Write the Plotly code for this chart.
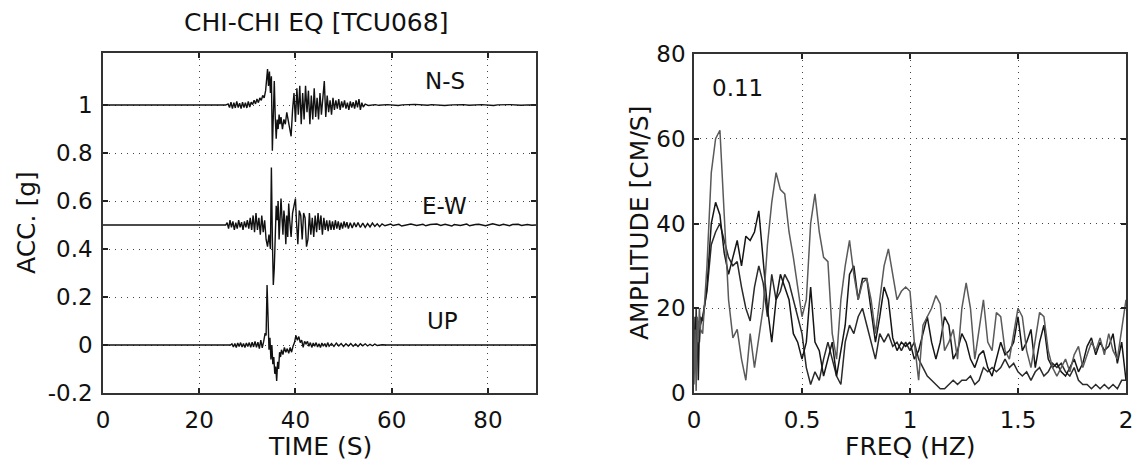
import plotly.graph_objects as go

# ---------------- Left panel data: acceleration records ----------------
ns_baseline = 1.0
ns_time = [0, 25.5, 26.0, 26.3, 26.6, 26.9, 27.2, 27.5, 27.8, 28.1, 28.4, 28.7, 29.0, 29.3, 29.6, 29.9,
           30.2, 30.5, 30.8, 31.1, 31.4, 31.7, 32.0, 32.3, 32.6, 32.9, 33.2, 33.5, 33.8, 34.0, 34.2, 34.4,
           34.6, 34.8, 35.0, 35.2, 35.4, 35.6, 35.8, 36.0, 36.2, 36.4, 36.6, 36.8, 37.0, 37.3, 37.6, 37.9,
           38.2, 38.5, 38.8, 39.1, 39.4, 39.7, 40.0, 40.3, 40.6, 40.9, 41.2, 41.5, 41.8, 42.1, 42.4, 42.7,
           43.0, 43.3, 43.6, 43.9, 44.2, 44.5, 44.8, 45.1, 45.4, 45.7, 46.0, 46.3, 46.6, 46.9, 47.2, 47.5,
           47.8, 48.1, 48.4, 48.7, 49.0, 49.3, 49.6, 49.9, 50.2, 50.5, 50.8, 51.1, 51.4, 51.7, 52.0, 52.3,
           52.6, 52.9, 53.2, 53.5, 53.8, 54.1, 54.5, 55.2, 56.6, 57.3, 59.1, 61.4, 62.2, 64.8, 67.5, 68.3,
           71.0, 72.6, 74.9, 76.1, 78.7, 81.2, 82.0, 84.6, 86.9, 88.3, 90]
ns_offset = [0, 0, 0.005, -0.01, 0.012, -0.015, 0.01, -0.012, 0.015, -0.01, 0.008, -0.015, 0.012, -0.01, 0.01, -0.012,
             0.015, -0.008, 0.012, 0.002, 0.02, 0.005, 0.025, 0.01, 0.03, 0.02, 0.04, 0.03, 0.06, 0.1, 0.15, 0.08,
             0.14, 0.05, 0.12, -0.19, 0.02, 0.1, -0.05, -0.14, -0.06, -0.1, -0.04, -0.08, -0.05, -0.1, -0.06, -0.08,
             -0.03, -0.07, -0.11, -0.13, -0.02, 0.05, -0.07, 0.07, -0.04, 0.08, -0.08, 0.05, -0.06, 0.08, -0.03, 0.06,
             -0.08, 0.04, -0.06, 0.07, -0.05, 0.03, -0.06, 0.05, -0.04, 0.03, 0.1, -0.05, 0.04, -0.03, 0.02, -0.04,
             0.03, -0.02, 0.02, -0.015, 0.025, -0.02, 0.015, -0.01, 0.02, -0.015, 0.01, -0.02, 0.015, -0.01, 0.012, -0.015,
             0.02, -0.01, 0.025, -0.02, 0.01, -0.008, 0.004, -0.002, 0.002, -0.001, 0.002, -0.002, 0.001, 0.003, -0.001, 0.002,
             -0.002, 0.001, 0.002, -0.001, 0.002, -0.002, 0.001, 0.002, -0.001, 0.001, 0]

ew_baseline = 0.5
ew_time = [0, 25.5, 25.8, 26.1, 26.4, 26.7, 27.0, 27.3, 27.6, 27.9, 28.2, 28.5, 28.8, 29.1, 29.4, 29.7,
           30.0, 30.3, 30.6, 30.9, 31.2, 31.5, 31.8, 32.1, 32.4, 32.7, 33.0, 33.3, 33.6, 33.9, 34.2, 34.5,
           34.8, 35.0, 35.2, 35.4, 35.6, 35.8, 36.0, 36.2, 36.4, 36.6, 36.8, 37.0, 37.2, 37.4, 37.6, 37.8,
           38.0, 38.2, 38.4, 38.6, 38.8, 39.1, 39.4, 39.7, 40.0, 40.2, 40.5, 40.8, 41.1, 41.4, 41.7, 42.0,
           42.3, 42.6, 42.9, 43.2, 43.5, 43.8, 44.1, 44.4, 44.7, 45.0, 45.3, 45.6, 45.9, 46.2, 46.5, 46.8,
           47.1, 47.4, 47.7, 48.0, 48.3, 48.6, 48.9, 49.2, 49.5, 49.8, 50.1, 50.4, 50.7, 51.0, 51.4, 51.8,
           52.2, 52.6, 53.0, 53.5, 54.0, 54.5, 55.0, 55.5, 56.0, 56.5, 57.0, 57.5, 58.0, 58.6, 59.8, 60.3,
           61.5, 62.1, 63.4, 64.0, 65.2, 66.5, 67.1, 68.0, 69.4, 70.2, 71.1, 72.5, 73.0, 74.3, 75.6, 76.2,
           77.4, 78.1, 79.5, 80.3, 81.0, 82.4, 83.2, 84.5, 85.1, 86.3, 87.0, 88.2, 89.1, 90]
ew_offset = [0, 0, 0.01, -0.015, 0.02, -0.01, 0.015, -0.02, 0.01, -0.015, 0.02, -0.01, 0.012, -0.02, 0.015, -0.01,
             0.02, -0.015, 0.03, -0.02, 0.04, -0.03, 0.05, -0.02, 0.03, -0.04, 0.04, -0.03, 0.02, -0.06, -0.09, -0.04,
             -0.1, 0.24, -0.05, -0.25, -0.18, 0.02, 0.08, 0.02, 0.1, -0.06, 0.05, 0.11, 0.03, -0.04, 0.06, 0.02,
             -0.08, 0.04, -0.05, 0.09, 0.02, -0.05, 0.05, 0.08, 0.11, 0.02, -0.08, 0.06, 0.04, -0.06, 0.05, 0.03,
             -0.09, -0.06, 0.05, -0.04, 0.03, -0.05, 0.04, -0.03, 0.05, -0.02, 0.04, -0.04, 0.03, -0.02, 0.02, -0.025,
             0.02, -0.02, 0.015, -0.02, 0.02, -0.015, 0.015, -0.02, 0.01, -0.015, 0.015, -0.01, 0.012, -0.015, 0.01, -0.012,
             0.01, -0.008, 0.01, -0.01, 0.008, -0.01, 0.006, -0.008, 0.008, -0.006, 0.005, -0.007, 0.005, -0.003, 0.004, -0.002,
             0.003, -0.004, 0.002, 0.004, -0.002, 0.003, -0.003, 0.002, 0.004, -0.002, 0.003, -0.004, 0.002, -0.002, 0.004, -0.003,
             0.002, 0.003, -0.003, 0.002, 0.005, -0.002, 0.003, -0.003, 0.002, 0.003, -0.002, 0.002, -0.001, 0]

up_baseline = 0.0
up_time = [0, 26.5, 26.8, 27.1, 27.4, 27.7, 28.0, 28.3, 28.6, 28.9, 29.2, 29.5, 29.8, 30.1, 30.4, 30.7,
           31.0, 31.3, 31.6, 31.9, 32.2, 32.5, 32.8, 33.1, 33.4, 33.7, 33.9, 34.1, 34.3, 34.5, 34.7, 34.9,
           35.1, 35.3, 35.5, 35.7, 35.9, 36.1, 36.3, 36.5, 36.7, 36.9, 37.1, 37.4, 37.7, 38.0, 38.3, 38.6,
           38.9, 39.2, 39.5, 39.8, 40.1, 40.4, 40.7, 41.0, 41.3, 41.6, 41.9, 42.2, 42.5, 42.8, 43.1, 43.4,
           43.7, 44.0, 44.3, 44.6, 44.9, 45.2, 45.5, 45.8, 46.1, 46.4, 46.7, 47.0, 47.5, 48.0, 48.5, 49.0,
           49.5, 50.0, 50.5, 51.0, 51.5, 52.0, 52.5, 53.0, 53.5, 54.0, 54.5, 55.0, 55.5, 56.0, 56.5, 57.0,
           58.0, 59, 90]
up_offset = [0, 0, 0.005, -0.008, 0.006, -0.01, 0.008, -0.006, 0.01, -0.008, 0.006, -0.01, 0.008, -0.006, 0.01, -0.01,
             0.012, -0.008, 0.015, -0.01, 0.012, -0.015, 0.02, -0.012, 0.015, 0.05, 0.04, 0.25, 0.12, -0.02, 0.03, -0.06,
             0.0, -0.08, -0.05, -0.12, -0.09, -0.15, -0.07, -0.1, -0.03, -0.05, -0.02, -0.04, -0.01, -0.03, -0.015, -0.035,
             -0.01, -0.03, -0.005, 0.01, 0.04, 0.02, 0.035, 0.01, 0.02, -0.01, 0.015, 0.005, 0.015, -0.005, 0.01, -0.01,
             0.008, -0.005, 0.01, -0.008, 0.005, -0.01, 0.008, -0.005, 0.006, -0.008, 0.01, -0.005, 0.006, -0.006, 0.008, -0.004,
             0.006, -0.006, 0.005, -0.004, 0.006, -0.005, 0.004, -0.006, 0.005, -0.003, 0.005, -0.004, 0.003, -0.003, 0.004, -0.002,
             0.001, 0, 0]

component_labels = ["N-S", "E-W", "UP"]
component_label_time = [71, 71, 70.5]
component_label_acc = [1.1, 0.58, 0.1]

acc_yticks = [-0.2, 0, 0.2, 0.4, 0.6, 0.8, 1]
acc_yticktext = ["-0.2", "0", "0.2", "0.4", "0.6", "0.8", "1"]
time_xticks = [0, 20, 40, 60, 80]

# ---------------- Right panel data: Fourier amplitude spectra ----------------
freq = [0, 0.005, 0.01, 0.015, 0.02, 0.025, 0.03, 0.04, 0.06, 0.08, 0.10, 0.12, 0.14, 0.16, 0.18, 0.20,
        0.22, 0.24, 0.26, 0.28, 0.30, 0.32, 0.34, 0.36, 0.38, 0.40, 0.42, 0.44, 0.46, 0.48, 0.50, 0.52,
        0.54, 0.56, 0.58, 0.60, 0.62, 0.64, 0.66, 0.68, 0.70, 0.72, 0.74, 0.76, 0.78, 0.80, 0.82, 0.84,
        0.86, 0.88, 0.90, 0.92, 0.94, 0.96, 0.98, 1.00, 1.02, 1.04, 1.06, 1.08, 1.10, 1.12, 1.14, 1.16,
        1.18, 1.20, 1.22, 1.24, 1.26, 1.28, 1.30, 1.32, 1.34, 1.36, 1.38, 1.40, 1.42, 1.44, 1.46, 1.48,
        1.50, 1.52, 1.54, 1.56, 1.58, 1.60, 1.62, 1.64, 1.66, 1.68, 1.70, 1.72, 1.74, 1.76, 1.78, 1.80,
        1.82, 1.84, 1.86, 1.88, 1.90, 1.92, 1.94, 1.96, 1.98, 2.00]

amp_a = [2, 15, 0.5, 18, 12, 20, 15, 14, 30, 52, 60, 62, 42, 22, 13, 15,
         8, 3, 14, 6, 13, 20, 35, 45, 52, 48, 47, 38, 32, 25, 18, 22,
         40, 47, 38, 32, 31, 14, 8, 22, 30, 36, 28, 22, 26, 27, 22, 14,
         22, 30, 34, 28, 22, 24, 25, 24, 12, 3, 16, 18, 20, 23, 21, 10,
         12, 15, 8, 20, 26, 20, 8, 15, 22, 12, 10, 19, 18, 10, 8, 14,
         20, 18, 10, 6, 12, 19, 18, 10, 6, 4, 6, 8, 5, 9, 11, 6,
         9, 12, 10, 13, 9, 14, 10, 8, 15, 22]

amp_b = [5, 18, 8, 14, 3, 16, 18, 17, 25, 40, 45, 42, 33, 28, 32, 36,
         30, 37, 36, 38, 43, 32, 20, 12, 22, 28, 25, 22, 14, 12, 8, 12,
         25, 12, 10, 4, 8, 12, 4, 10, 16, 28, 30, 22, 27, 27, 20, 12,
         18, 25, 22, 13, 10, 12, 11, 12, 8, 10, 14, 18, 12, 8, 12, 18,
         16, 8, 10, 14, 12, 8, 6, 9, 10, 6, 4, 8, 12, 9, 10, 12,
         18, 10, 12, 15, 6, 12, 16, 8, 6, 7, 5, 4, 6, 8, 5, 7,
         11, 13, 9, 12, 10, 11, 14, 7, 12, 3]

amp_c = [10, 6, 20, 10, 17, 12, 16, 18, 24, 35, 38, 40, 36, 32, 30, 31,
         25, 20, 17, 25, 30, 26, 18, 28, 22, 24, 28, 26, 22, 18, 14, 6,
         2, 5, 3, 8, 12, 8, 4, 2, 12, 16, 14, 18, 20, 16, 12, 8,
         14, 12, 14, 11, 12, 10, 12, 10, 12, 8, 6, 4, 3, 2, 1, 1,
         2, 3, 2, 3, 3, 4, 2, 3, 6, 5, 6, 5, 6, 8, 6, 7,
         5, 4, 5, 3, 5, 6, 4, 5, 7, 6, 7, 5, 4, 6, 3, 2,
         2, 1, 2, 1, 2, 1, 2, 1, 3, 3]

peak_label = "0.11"
peak_label_freq = 0.2
peak_label_amp = 72

amp_yticks = [0, 20, 40, 60, 80]
freq_xticks = [0, 0.5, 1, 1.5, 2]
freq_xticktext = ["0", "0.5", "1", "1.5", "2"]

# ---------------- Figure ----------------
FONT = "DejaVu Sans, Liberation Sans, Arial, sans-serif"
TXT = "#111111"
W, H = 1144, 464

fig = go.Figure()

for t, off, base in [(ns_time, ns_offset, ns_baseline),
                     (ew_time, ew_offset, ew_baseline),
                     (up_time, up_offset, up_baseline)]:
    fig.add_trace(go.Scatter(x=t, y=[base + v for v in off], mode="lines",
                             line=dict(color="#111111", width=1.4),
                             xaxis="x", yaxis="y", showlegend=False, hoverinfo="skip"))

for amp, col in [(amp_c, "#2a2a2a"), (amp_b, "#151515"), (amp_a, "#5a5a5a")]:
    fig.add_trace(go.Scatter(x=freq, y=amp, mode="lines",
                             line=dict(color=col, width=1.5),
                             xaxis="x2", yaxis="y2", showlegend=False, hoverinfo="skip"))

L_x0, L_x1, L_y0, L_y1 = 103, 536, 53, 393
R_x0, R_x1, R_y0, R_y1 = 694, 1126, 54, 393

def dom_x(a, b):
    return [a / W, b / W]

def dom_y(top, bottom):
    return [1 - bottom / H, 1 - top / H]

axis_common = dict(showline=True, linecolor="#333333", linewidth=1.6, mirror="ticks",
                   ticks="inside", ticklen=5, tickcolor="#222222", tickwidth=1.5,
                   showgrid=True, gridcolor="#444444", gridwidth=1, griddash="1px,5px",
                   zeroline=False, tickfont=dict(family=FONT, size=23, color=TXT),
                   automargin=False)

fig.update_layout(
    width=W, height=H,
    margin=dict(l=0, r=0, t=0, b=0),
    paper_bgcolor="white", plot_bgcolor="white",
    xaxis=dict(domain=dom_x(L_x0, L_x1), range=[0, 90], tickvals=time_xticks,
               anchor="y", ticklabelstandoff=6, **axis_common),
    yaxis=dict(domain=dom_y(L_y0, L_y1), range=[-0.2, 1.217], tickvals=acc_yticks,
               ticktext=acc_yticktext, anchor="x", ticklabelstandoff=4, **axis_common),
    xaxis2=dict(domain=dom_x(R_x0, R_x1), range=[0, 2], tickvals=freq_xticks,
                ticktext=freq_xticktext, anchor="y2", ticklabelstandoff=6, **axis_common),
    yaxis2=dict(domain=dom_y(R_y0, R_y1), range=[0, 80], tickvals=amp_yticks,
                anchor="x2", ticklabelstandoff=2, **axis_common),
)

def txt(x, y, s, size, xref="paper", yref="paper", angle=0):
    return dict(x=x, y=y, xref=xref, yref=yref, text=s, showarrow=False, textangle=angle,
                xanchor="center", yanchor="middle",
                font=dict(family=FONT, size=size, color=TXT))

annotations = []
for lab, tx, ay in zip(component_labels, component_label_time, component_label_acc):
    annotations.append(txt(tx, ay, lab, 23, "x", "y"))
annotations.append(txt(peak_label_freq, peak_label_amp, peak_label, 23, "x2", "y2"))
annotations.append(txt(316 / W, 1 - 23 / H, "CHI-CHI EQ [TCU068]", 25))
annotations.append(txt(320 / W, 1 - 446 / H, "TIME (S)", 25))
annotations.append(txt(910 / W, 1 - 446 / H, "FREQ (HZ)", 25))
annotations.append(txt(26 / W, 1 - 223 / H, "ACC. [g]", 25, angle=-90))
annotations.append(txt(639 / W, 1 - 223 / H, "AMPLITUDE [CM/S]", 25, angle=-90))
fig.update_layout(annotations=annotations)

fig.write_html("out.html")
